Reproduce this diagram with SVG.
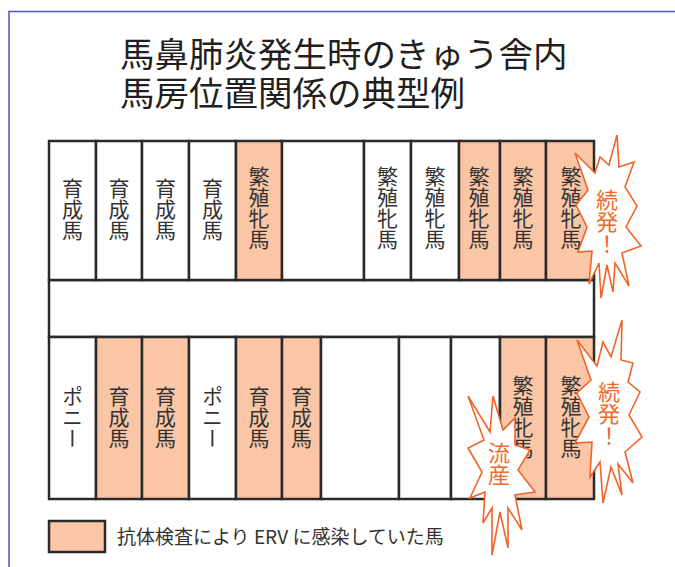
<svg xmlns="http://www.w3.org/2000/svg" width="675" height="567" viewBox="0 0 675 567">
<style>
.frame{fill:none;stroke:#5252b4;stroke-width:1.5}
.st{stroke:#2a2a2a;stroke-width:2.5}
.w{fill:#ffffff}
.o{fill:#fbc6a6}
.lbl{font-family:"Noto Sans CJK JP","Noto Sans",sans-serif;font-size:21px;fill:#333333;writing-mode:vertical-rl;text-anchor:start}
.burst{fill:#ffffff;stroke:#f0642a;stroke-width:1.6;stroke-linejoin:miter}
.btxt{font-family:"Noto Sans CJK JP","Noto Sans",sans-serif;font-size:22px;fill:#ef6a2c;writing-mode:vertical-rl;text-anchor:start}
.title{font-family:"Noto Sans CJK JP","Noto Sans",sans-serif;font-size:34.5px;fill:#231f20}
.leg{font-family:"Noto Sans CJK JP","Noto Sans",sans-serif;font-size:19px;fill:#333333}
</style>
<rect width="675" height="567" fill="#ffffff"/>
<path class="frame" d="M9,567 V11.5 H675"/>
<g id="title">
<text class="title" x="120" y="67">馬鼻肺炎発生時のきゅう舎内</text>
<text class="title" x="120" y="106">馬房位置関係の典型例</text>
</g>
<g id="aisle"><rect class="st w" x="49" y="280" width="545" height="57"/></g>
<g id="top-row">
<g id="t1"><rect class="st w" x="49" y="141" width="47" height="139"/><text class="lbl" x="72.5" y="178">育成馬</text></g>
<g id="t2"><rect class="st w" x="96" y="141" width="46" height="139"/><text class="lbl" x="119" y="178">育成馬</text></g>
<g id="t3"><rect class="st w" x="142" y="141" width="47" height="139"/><text class="lbl" x="165.5" y="178">育成馬</text></g>
<g id="t4"><rect class="st w" x="189" y="141" width="47" height="139"/><text class="lbl" x="212.5" y="178">育成馬</text></g>
<g id="t5"><rect class="st o" x="236" y="141" width="46" height="139"/><text class="lbl" x="259" y="166">繁殖牝馬</text></g>
<g id="t6"><rect class="st w" x="282" y="141" width="82" height="139"/></g>
<g id="t7"><rect class="st w" x="364" y="141" width="47" height="139"/><text class="lbl" x="387.5" y="166">繁殖牝馬</text></g>
<g id="t8"><rect class="st w" x="411" y="141" width="48" height="139"/><text class="lbl" x="435" y="166">繁殖牝馬</text></g>
<g id="t9"><rect class="st o" x="459" y="141" width="41" height="139"/><text class="lbl" x="479" y="166">繁殖牝馬</text></g>
<g id="t10"><rect class="st o" x="500" y="141" width="46" height="139"/><text class="lbl" x="523" y="166">繁殖牝馬</text></g>
<g id="t11"><rect class="st o" x="546" y="141" width="48" height="139"/><text class="lbl" x="571" y="166">繁殖牝馬</text></g>
</g>
<g id="bottom-row">
<g id="b1"><rect class="st w" x="49" y="337" width="47" height="162"/><text class="lbl" x="72.5" y="386">ポニー</text></g>
<g id="b2"><rect class="st o" x="96" y="337" width="46" height="162"/><text class="lbl" x="119" y="386">育成馬</text></g>
<g id="b3"><rect class="st o" x="142" y="337" width="47" height="162"/><text class="lbl" x="165.5" y="386">育成馬</text></g>
<g id="b4"><rect class="st w" x="189" y="337" width="47" height="162"/><text class="lbl" x="212.5" y="386">ポニー</text></g>
<g id="b5"><rect class="st o" x="236" y="337" width="46" height="162"/><text class="lbl" x="259" y="386">育成馬</text></g>
<g id="b6"><rect class="st o" x="282" y="337" width="39" height="162"/><text class="lbl" x="301.5" y="386">育成馬</text></g>
<g id="b7"><rect class="st w" x="321" y="337" width="78" height="162"/></g>
<g id="b8"><rect class="st w" x="399" y="337" width="52" height="162"/></g>
<g id="b9"><rect class="st w" x="451" y="337" width="49" height="162"/></g>
<g id="b10"><rect class="st o" x="500" y="337" width="46" height="162"/><text class="lbl" x="523" y="375">繁殖牝馬</text></g>
<g id="b11"><rect class="st o" x="546" y="337" width="48" height="162"/><text class="lbl" x="571" y="375">繁殖牝馬</text></g>
</g>
<g id="burst-top">
<polygon class="burst" points="617,135 619,167 634,162 625,187 637,206 626,227 641,246 622,253 629,286 615,263 613,292 607,265 601,298 599,263 589,284 592,251 578,252 587,227 576,205 588,190 575,153 595,173 600,157 609,165"/>
<text class="btxt" x="607" y="189">続発！</text>
</g>
<g id="burst-bottom">
<polygon class="burst" points="622,320 621,360 633,363 628,382 640,392 629,415 642,437 625,452 633,483 618,464 622,495 611,467 603,503 600,462 590,477 592,442 575,443 589,417 577,393 591,380 577,340 597,366 603,342 611,357"/>
<text class="btxt" x="609" y="381">続発！</text>
</g>
<g id="burst-abortion">
<polygon class="burst" points="493,396 503,430 515,418 515,445 530,450 518,470 535,492 515,495 522,530 508,508 508,548 500,512 492,555 492,508 483,523 485,492 470,498 482,472 468,448 484,440 468,396 490,432"/>
<text class="btxt" x="499" y="442">流産</text>
</g>
<g id="legend">
<rect x="49" y="521" width="56" height="31" fill="#fbc6a6" stroke="#2a2a2a" stroke-width="2.5"/>
<text class="leg" x="117" y="544">抗体検査により ERV に感染していた馬</text>
</g>
</svg>
